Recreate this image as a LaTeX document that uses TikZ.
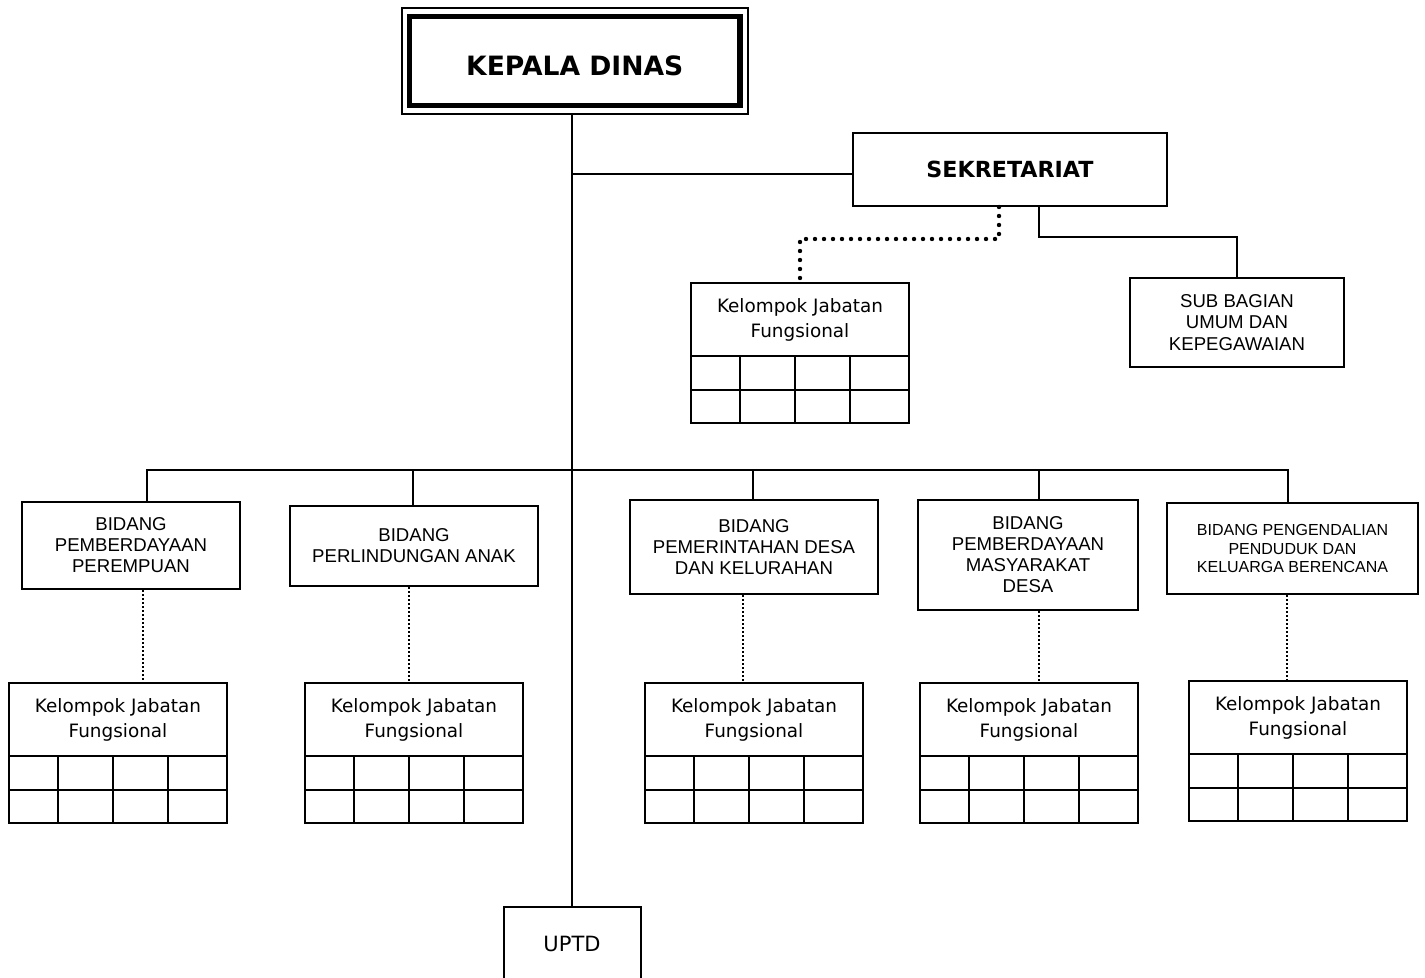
\documentclass[tikz,border=0pt]{standalone}
\usepackage{fontspec}
\setmainfont{Liberation Sans}
\newfontfamily\tahoma{DejaVu Sans}
\usetikzlibrary{positioning}

% kelompok jabatan box with grid: name, left x, top y
\newcommand{\kjf}[3]{%
  \node[kelbox] (#1) at (#2+109,#3+36.5) {Kelompok Jabatan\\Fungsional};
  \draw[link] (#2,#3+73) rectangle (#2+218,#3+140);
  \draw[link] (#2,#3+107) -- (#2+218,#3+107);
  \foreach \col in {49,104,159}
    \draw[link] (#2+\col,#3+73) -- (#2+\col,#3+140);
}

\begin{document}
\begin{tikzpicture}[
        x=0.5pt, y=-0.5pt,
        link/.style={line width=1pt},
        dots/.style={line width=1pt, densely dotted},
        bigdots/.style={line width=2.2pt, line cap=round, dash pattern=on 0pt off 4.5pt},
        box/.style={draw, line width=1pt, align=center, inner sep=2pt},
        bidang/.style={box, font=\fontsize{9.3}{10.5}\selectfont},
        kelbox/.style={box, minimum width=109pt, minimum height=36.5pt, font=\tahoma\fontsize{9.2}{12.5}\selectfont}
    ]
        \useasboundingbox (0,0) rectangle (1425,978);

        % Top
        \node[draw, line width=1pt, minimum width=173.25pt, minimum height=53.25pt] (kadisframe) at (574.75,61) {};
        \node[draw, line width=2.7pt, minimum width=165.25pt, minimum height=44.5pt, text height=14.7pt, text depth=0pt, font=\tahoma\bfseries\fontsize{13.3}{16}\selectfont] (kadis) at (574.75,61) {KEPALA DINAS};
        \node[box, minimum width=157pt, minimum height=36.5pt, font=\tahoma\bfseries\fontsize{11.1}{13}\selectfont] (sekre) at (1010,169.5) {SEKRETARIAT};
        \kjf{kjf0}{691}{283}
        \node[box, minimum width=107pt, minimum height=44.5pt, font=\fontsize{9.3}{10.75}\selectfont] (subbag) at (1237,322.5) {SUB BAGIAN\\UMUM DAN\\KEPEGAWAIAN};

        % Bidang
        \node[bidang, minimum width=109pt, minimum height=43.5pt] (bid1) at (131,545.5) {BIDANG\\PEMBERDAYAAN\\PEREMPUAN};
        \node[bidang, minimum width=124pt, minimum height=40pt] (bid2) at (414,546) {BIDANG\\PERLINDUNGAN ANAK};
        \node[bidang, minimum width=124pt, minimum height=47pt] (bid3) at (754,547) {BIDANG\\PEMERINTAHAN DESA\\DAN KELURAHAN};
        \node[bidang, minimum width=110pt, minimum height=55pt] (bid4) at (1028,555) {BIDANG\\PEMBERDAYAAN\\MASYARAKAT\\DESA};
        \node[bidang, minimum width=125.5pt, minimum height=45.5pt, font=\fontsize{8}{9.25}\selectfont] (bid5) at (1292.5,548.5) {BIDANG PENGENDALIAN\\PENDUDUK DAN\\KELUARGA BERENCANA};

        \kjf{kjf1}{9}{683}
        \kjf{kjf2}{305}{683}
        \kjf{kjf3}{645}{683}
        \kjf{kjf4}{920}{683}
        \kjf{kjf5}{1189}{681}

        \node[box, minimum width=68.5pt, minimum height=37pt, font=\tahoma\fontsize{10.5}{12}\selectfont] (uptd) at (572,944) {UPTD};

        % Paths
        \draw[link] (kadisframe.south -| uptd.north) -- (uptd.north);
        \coordinate (sekin) at ([yshift=-2.25pt]sekre.west);
        \draw[link] (sekin) -- (sekin -| uptd.north);
        \draw[bigdots] ([xshift=-5.5pt]sekre.south) -- ++(0,32) -| (kjf0.north);
        \draw[link] ([xshift=14.5pt]sekre.south) -- ++(0,30) -| (subbag.north);

        \coordinate (bus) at (573,470);
        \foreach \b/\s in {bid1/8pt, bid2/-0.5pt, bid3/-0.5pt, bid4/5.5pt, bid5/-2.25pt}
            \coordinate (top\b) at ([xshift=\s]\b.north);
        \draw[link] (topbid1) |- (bus) -| (topbid5);
        \foreach \b in {bid2,bid3,bid4}
            \draw[link] (bus -| top\b) -- (top\b);
        \foreach \i/\s in {1/6pt, 2/-2.5pt, 3/-5.5pt, 4/5.5pt, 5/-2.75pt} {
            \coordinate (low\i) at ([xshift=\s]bid\i.south);
            \draw[dots] (low\i) -- (low\i |- kjf\i.north);
        }
    \end{tikzpicture}
\end{document}
